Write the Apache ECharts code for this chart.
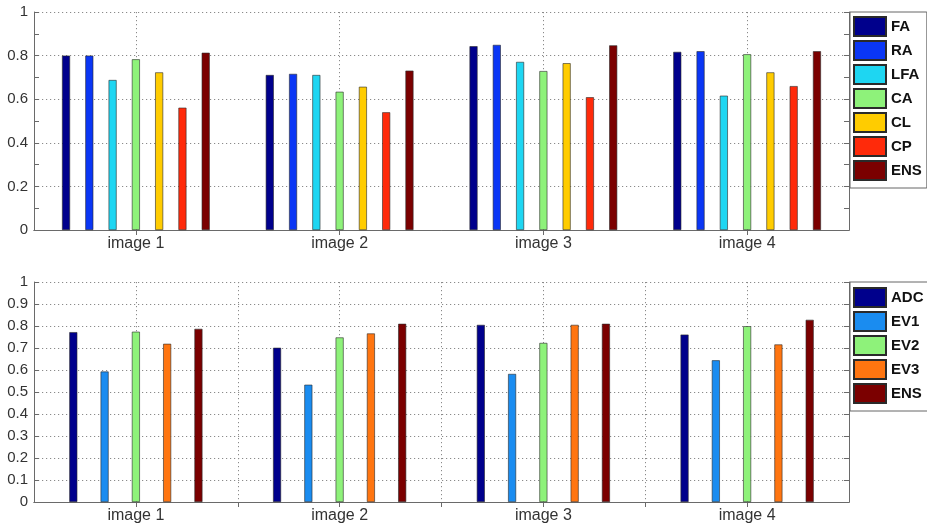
<!DOCTYPE html>
<html>
<head>
<meta charset="utf-8">
<script src="https://cdn.jsdelivr.net/npm/echarts@6/dist/echarts.min.js"></script>
<style>html,body{margin:0;padding:0;background:#fff}#c{width:927px;height:527px}</style>
</head>
<body>
<div id="c"></div>
<script>
// ---- data ----
const categories = ['image 1', 'image 2', 'image 3', 'image 4'];

const topNames = ['FA', 'RA', 'LFA', 'CA', 'CL', 'CP', 'ENS'];
const FA  = [0.800, 0.711, 0.843, 0.817];
const RA  = [0.800, 0.716, 0.849, 0.820];
const LFA = [0.688, 0.711, 0.771, 0.616];
const CA  = [0.783, 0.634, 0.729, 0.806];
const CL  = [0.723, 0.657, 0.765, 0.723];
const CP  = [0.561, 0.540, 0.609, 0.660];
const ENS_top = [0.813, 0.731, 0.847, 0.820];
const topValues = [FA, RA, LFA, CA, CL, CP, ENS_top];
const topColors = ['#00008c', '#0a36f5', '#1ed6f2', '#8ef27a', '#ffcc00', '#ff2a0a', '#7b0000'];

const bottomNames = ['ADC', 'EV1', 'EV2', 'EV3', 'ENS'];
const ADC = [0.772, 0.701, 0.805, 0.761];
const EV1 = [0.593, 0.533, 0.582, 0.644];
const EV2 = [0.774, 0.748, 0.723, 0.799];
const EV3 = [0.719, 0.766, 0.805, 0.716];
const ENS_bottom = [0.787, 0.810, 0.810, 0.828];
const bottomValues = [ADC, EV1, EV2, EV3, ENS_bottom];
const bottomColors = ['#00008c', '#1a8cf0', '#8ef27a', '#ff7510', '#7b0000'];

const topTicks = [0, 0.2, 0.4, 0.6, 0.8, 1];
const bottomTicks = [0, 0.1, 0.2, 0.3, 0.4, 0.5, 0.6, 0.7, 0.8, 0.9, 1];

// ---- chart ----
const FONT = "'Liberation Sans', Arial, sans-serif";
const AXIS_COLOR = '#6a6a6a';
const GRID_DOT = { color: '#8a8a8a', type: [1.2, 2.8], width: 1 };
const helperData = ['h0','h1','h2','h3','h4','h5','h6','h7','h8'];

function catAxis(gi) {
  return {
    type: 'category', gridIndex: gi, data: categories, position: 'bottom',
    axisLine: { show: true, lineStyle: { color: AXIS_COLOR } },
    axisTick: { show: true, inside: true, alignWithLabel: true, length: 5, lineStyle: { color: AXIS_COLOR } },
    axisLabel: { color: '#333', fontSize: 16, fontFamily: FONT, margin: 6 },
    splitLine: { show: false }
  };
}
function helperAxis(gi, showFn) {
  return {
    type: 'category', gridIndex: gi, data: helperData, position: 'top', boundaryGap: false,
    axisLine: { show: true, lineStyle: { color: AXIS_COLOR } },
    axisTick: { show: true, inside: true, length: 5, interval: showFn, lineStyle: { color: AXIS_COLOR } },
    axisLabel: { show: false },
    splitLine: { show: true, interval: showFn, lineStyle: GRID_DOT }
  };
}
function valAxis(gi, ticks, side, minor) {
  const step = ticks[1] - ticks[0];
  const isLeft = side === 'left';
  return {
    type: 'value', gridIndex: gi, position: side, min: ticks[0], max: ticks[ticks.length - 1], interval: step,
    axisLine: { show: true, lineStyle: { color: AXIS_COLOR } },
    axisTick: { show: true, inside: true, length: 5, lineStyle: { color: AXIS_COLOR } },
    minorTick: { show: minor, splitNumber: 2, length: 5, lineStyle: { color: AXIS_COLOR } },
    axisLabel: { show: isLeft, color: '#333', fontSize: 15, fontFamily: FONT, margin: 6 },
    splitLine: { show: isLeft, lineStyle: GRID_DOT }
  };
}

const series = [];
topNames.forEach((n, i) => {
  series.push({
    name: n, type: 'bar', xAxisIndex: 0, yAxisIndex: 0, data: topValues[i],
    barWidth: 8, barGap: '191%',
    itemStyle: { color: topColors[i], borderColor: '#2a2a2a', borderWidth: 0.6 }
  });
});
bottomNames.forEach((n, i) => {
  series.push({
    name: n, type: 'bar', xAxisIndex: 2, yAxisIndex: 2, data: bottomValues[i],
    barWidth: 8, barGap: '291%',
    itemStyle: { color: bottomColors[i], borderColor: '#2a2a2a', borderWidth: 0.6 }
  });
});

const legendBase = {
  orient: 'vertical', left: 850, itemWidth: 32, itemHeight: 19, itemGap: 3,
  backgroundColor: '#fff', borderColor: '#666', borderWidth: 1,
  icon: 'rect', selectedMode: false,
  textStyle: { fontSize: 15, fontWeight: 'bold', color: '#111', fontFamily: FONT }
};

const option = {
  backgroundColor: '#fff',
  animation: false,
  grid: [
    { left: 34, top: 12, width: 815, height: 218, show: false },
    { left: 34, top: 282, width: 815, height: 220, show: false }
  ],
  xAxis: [
    catAxis(0),
    helperAxis(0, (idx) => idx % 2 === 1),
    catAxis(1),
    helperAxis(1, (idx) => idx > 0 && idx < 8)
  ],
  yAxis: [
    valAxis(0, topTicks, 'left', true),
    valAxis(0, topTicks, 'right', true),
    valAxis(1, bottomTicks, 'left', false),
    valAxis(1, bottomTicks, 'right', false)
  ],
  legend: [
    Object.assign({}, legendBase, { top: 12, padding: [4, 5, 7, 3], data: topNames }),
    Object.assign({}, legendBase, { top: 282, padding: [5, 5, 7, 3], data: bottomNames })
  ],
  series: series
};

const chart = echarts.init(document.getElementById('c'), null, { renderer: 'canvas' });
chart.setOption(option);
</script>
</body>
</html>
